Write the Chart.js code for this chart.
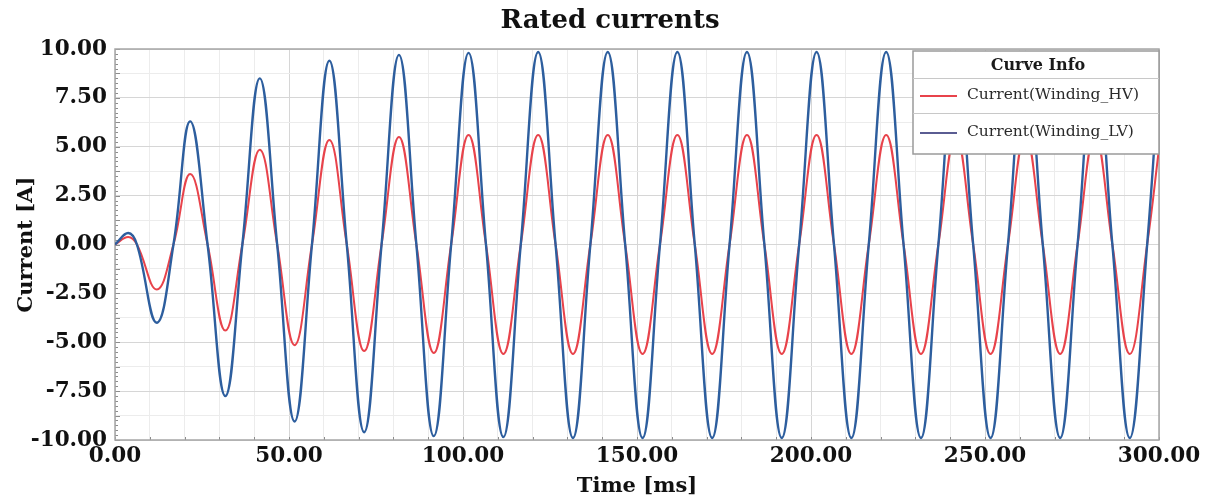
<!DOCTYPE html>
<html>
<head>
<meta charset="utf-8">
<title>Rated currents</title>
<script src="https://cdn.jsdelivr.net/npm/chart.js@4.4.0/dist/chart.umd.min.js"></script>
<style>
  html, body { margin: 0; padding: 0; background: #fff; }
  #wrap { width: 1211px; height: 499px; }
</style>
</head>
<body>
<div id="wrap"><canvas id="currentChart" width="1211" height="499"></canvas></div>
<script>
// time samples [ms]: start, first bump, then trough / zero / peak / zero each half period
const timeMs = [
  0, 3.8, 6.3,
  12.0, 16.8, 21.6, 26.6,
  31.7, 36.6, 41.6, 46.6,
  51.6, 56.6, 61.6, 66.6,
  71.6, 76.6, 81.6, 86.6,
  91.6, 96.6, 101.6, 106.6,
  111.6, 116.6, 121.6, 126.6,
  131.6, 136.6, 141.6, 146.6,
  151.6, 156.6, 161.6, 166.6,
  171.6, 176.6, 181.6, 186.6,
  191.6, 196.6, 201.6, 206.6,
  211.6, 216.6, 221.6, 226.6,
  231.6, 236.6, 241.6, 246.6,
  251.6, 256.6, 261.6, 266.6,
  271.6, 276.6, 281.6, 286.6,
  291.6, 296.6, 300
];

const currentHV = [
  0, 0.38, 0,
  -2.3, 0, 3.6, 0,
  -4.4, 0, 4.85, 0,
  -5.15, 0, 5.35, 0,
  -5.45, 0, 5.5, 0,
  -5.55, 0, 5.6, 0,
  -5.6, 0, 5.6, 0,
  -5.6, 0, 5.6, 0,
  -5.6, 0, 5.6, 0,
  -5.6, 0, 5.6, 0,
  -5.6, 0, 5.6, 0,
  -5.6, 0, 5.6, 0,
  -5.6, 0, 5.6, 0,
  -5.6, 0, 5.6, 0,
  -5.6, 0, 5.6, 0,
  -5.6, 0, 4.9
];

const currentLV = [
  0, 0.59, 0,
  -4.0, 0, 6.3, 0,
  -7.75, 0, 8.5, 0,
  -9.05, 0, 9.4, 0,
  -9.6, 0, 9.7, 0,
  -9.8, 0, 9.8, 0,
  -9.85, 0, 9.85, 0,
  -9.9, 0, 9.85, 0,
  -9.9, 0, 9.85, 0,
  -9.9, 0, 9.85, 0,
  -9.9, 0, 9.85, 0,
  -9.9, 0, 9.85, 0,
  -9.9, 0, 9.85, 0,
  -9.9, 0, 9.85, 0,
  -9.9, 0, 9.85, 0,
  -9.9, 0, 8.6
];

const seriesNames = ['Current(Winding_HV)', 'Current(Winding_LV)'];
const xRange = [0, 300];
const yRange = [-10, 10];

const serif = '"DejaVu Serif", "Liberation Serif", serif';
const HV_COLOR = '#e8434b';
const LV_COLOR = '#2d5e9e';

const toPoints = ys => ys.map((y, i) => ({ x: timeMs[i], y }));

// chart title, centred a bit right of the canvas middle like the original
const chartTitle = {
  id: 'chartTitle',
  afterDraw(chart) {
    const { ctx } = chart;
    ctx.save();
    ctx.fillStyle = '#111';
    ctx.font = 'bold 26px ' + serif;
    ctx.textAlign = 'center';
    ctx.textBaseline = 'middle';
    ctx.fillText('Rated currents', 610, 21);
    ctx.restore();
  }
};

// plot frame + small axis ticks
const plotFrame = {
  id: 'plotFrame',
  beforeDatasetsDraw(chart) {
    const { ctx, chartArea: a, scales } = chart;
    ctx.save();
    ctx.strokeStyle = '#8c8c8c';
    ctx.lineWidth = 1;
    for (let v = yRange[0]; v <= yRange[1] + 1e-9; v += 0.25) {
      const py = Math.round(scales.y.getPixelForValue(v)) + 0.5;
      const len = Math.abs(v / 1.25 - Math.round(v / 1.25)) < 1e-6 ? 5 : 3;
      ctx.beginPath();
      ctx.moveTo(a.left, py);
      ctx.lineTo(a.left + len, py);
      ctx.stroke();
    }
    for (let v = xRange[0]; v <= xRange[1]; v += 10) {
      const px = Math.round(scales.x.getPixelForValue(v)) + 0.5;
      ctx.beginPath();
      ctx.moveTo(px, a.bottom);
      ctx.lineTo(px, a.bottom - 3);
      ctx.stroke();
    }
    ctx.strokeStyle = '#a6a6a6';
    ctx.lineWidth = 1.5;
    ctx.strokeRect(a.left, a.top, a.right - a.left, a.bottom - a.top);
    ctx.restore();
  }
};

// "Curve Info" box in the top right corner
const curveInfo = {
  id: 'curveInfo',
  afterDatasetsDraw(chart) {
    const { ctx, chartArea } = chart;
    const w = 246, h = 103;
    const x = chartArea.right - w, y = chartArea.top + 2;
    ctx.save();
    ctx.fillStyle = '#fff';
    ctx.fillRect(x, y, w, h);
    ctx.strokeStyle = '#9a9a9a';
    ctx.lineWidth = 1.5;
    ctx.strokeRect(x, y, w, h);

    ctx.strokeStyle = '#c8c8c8';
    ctx.lineWidth = 1;
    [27, 62].forEach(dy => {
      ctx.beginPath();
      ctx.moveTo(x, y + dy + 0.5);
      ctx.lineTo(x + w, y + dy + 0.5);
      ctx.stroke();
    });

    ctx.fillStyle = '#1a1a1a';
    ctx.textBaseline = 'middle';
    ctx.textAlign = 'center';
    ctx.font = 'bold 16px ' + serif;
    ctx.fillText('Curve Info', x + w / 2 + 2, y + 15);

    ctx.textAlign = 'left';
    ctx.font = '15.5px ' + serif;
    chart.data.datasets.forEach((ds, i) => {
      const cy = y + 44 + i * 37;
      ctx.strokeStyle = ds.legendColor;
      ctx.lineWidth = 2;
      ctx.beginPath();
      ctx.moveTo(x + 7, cy + 1);
      ctx.lineTo(x + 44, cy + 1);
      ctx.stroke();
      ctx.fillStyle = '#2a2a2a';
      ctx.fillText(ds.label, x + 54, cy);
    });
    ctx.restore();
  }
};

const tickFont = { family: serif, size: 21.5, weight: 'bold' };
const titleFont = { family: serif, size: 21, weight: 'bold' };

new Chart(document.getElementById('currentChart'), {
  type: 'line',
  data: {
    datasets: [
      {
        label: seriesNames[0],
        data: toPoints(currentHV),
        borderColor: HV_COLOR,
        legendColor: HV_COLOR,
        borderWidth: 2,
        pointRadius: 0,
        tension: 0.42,
        order: 1
      },
      {
        label: seriesNames[1],
        data: toPoints(currentLV),
        borderColor: LV_COLOR,
        legendColor: '#5a5c92',
        borderWidth: 2.4,
        pointRadius: 0,
        tension: 0.42,
        order: 0
      }
    ]
  },
  options: {
    responsive: false,
    animation: false,
    layout: { padding: { left: 0, right: 52, top: 49, bottom: 0 } },
    plugins: {
      legend: { display: false },
      tooltip: { enabled: false },
      title: { display: false }
    },
    scales: {
      x: {
        type: 'linear',
        min: xRange[0],
        max: xRange[1],
        afterFit: s => { s.height = 59; },
        border: { display: false },
        grid: {
          drawTicks: false,
          color: c => (c.tick && c.tick.value % 50 === 0) ? '#d6d6d6' : '#ececec'
        },
        ticks: {
          stepSize: 10,
          autoSkip: false,
          maxRotation: 0,
          padding: 4,
          color: '#111',
          font: tickFont,
          callback: v => v % 50 === 0 ? v.toFixed(2) : ''
        },
        title: {
          display: true,
          text: 'Time [ms]',
          color: '#111',
          font: titleFont,
          padding: { top: 0, bottom: 0 }
        }
      },
      y: {
        min: yRange[0],
        max: yRange[1],
        afterFit: s => { s.width = 115; },
        border: { display: false },
        grid: {
          drawTicks: false,
          color: c => {
            const v = c.tick ? c.tick.value : 0;
            return Math.abs(v / 2.5 - Math.round(v / 2.5)) < 1e-6 ? '#d6d6d6' : '#ececec';
          }
        },
        ticks: {
          stepSize: 1.25,
          autoSkip: false,
          padding: 8,
          color: '#111',
          font: tickFont,
          callback: v => Math.abs(v / 2.5 - Math.round(v / 2.5)) < 1e-6 ? v.toFixed(2) : ''
        },
        title: {
          display: true,
          text: 'Current [A]',
          color: '#111',
          font: titleFont,
          padding: { top: 14, bottom: 0 }
        }
      }
    }
  },
  plugins: [plotFrame, curveInfo, chartTitle]
});
</script>
</body>
</html>
